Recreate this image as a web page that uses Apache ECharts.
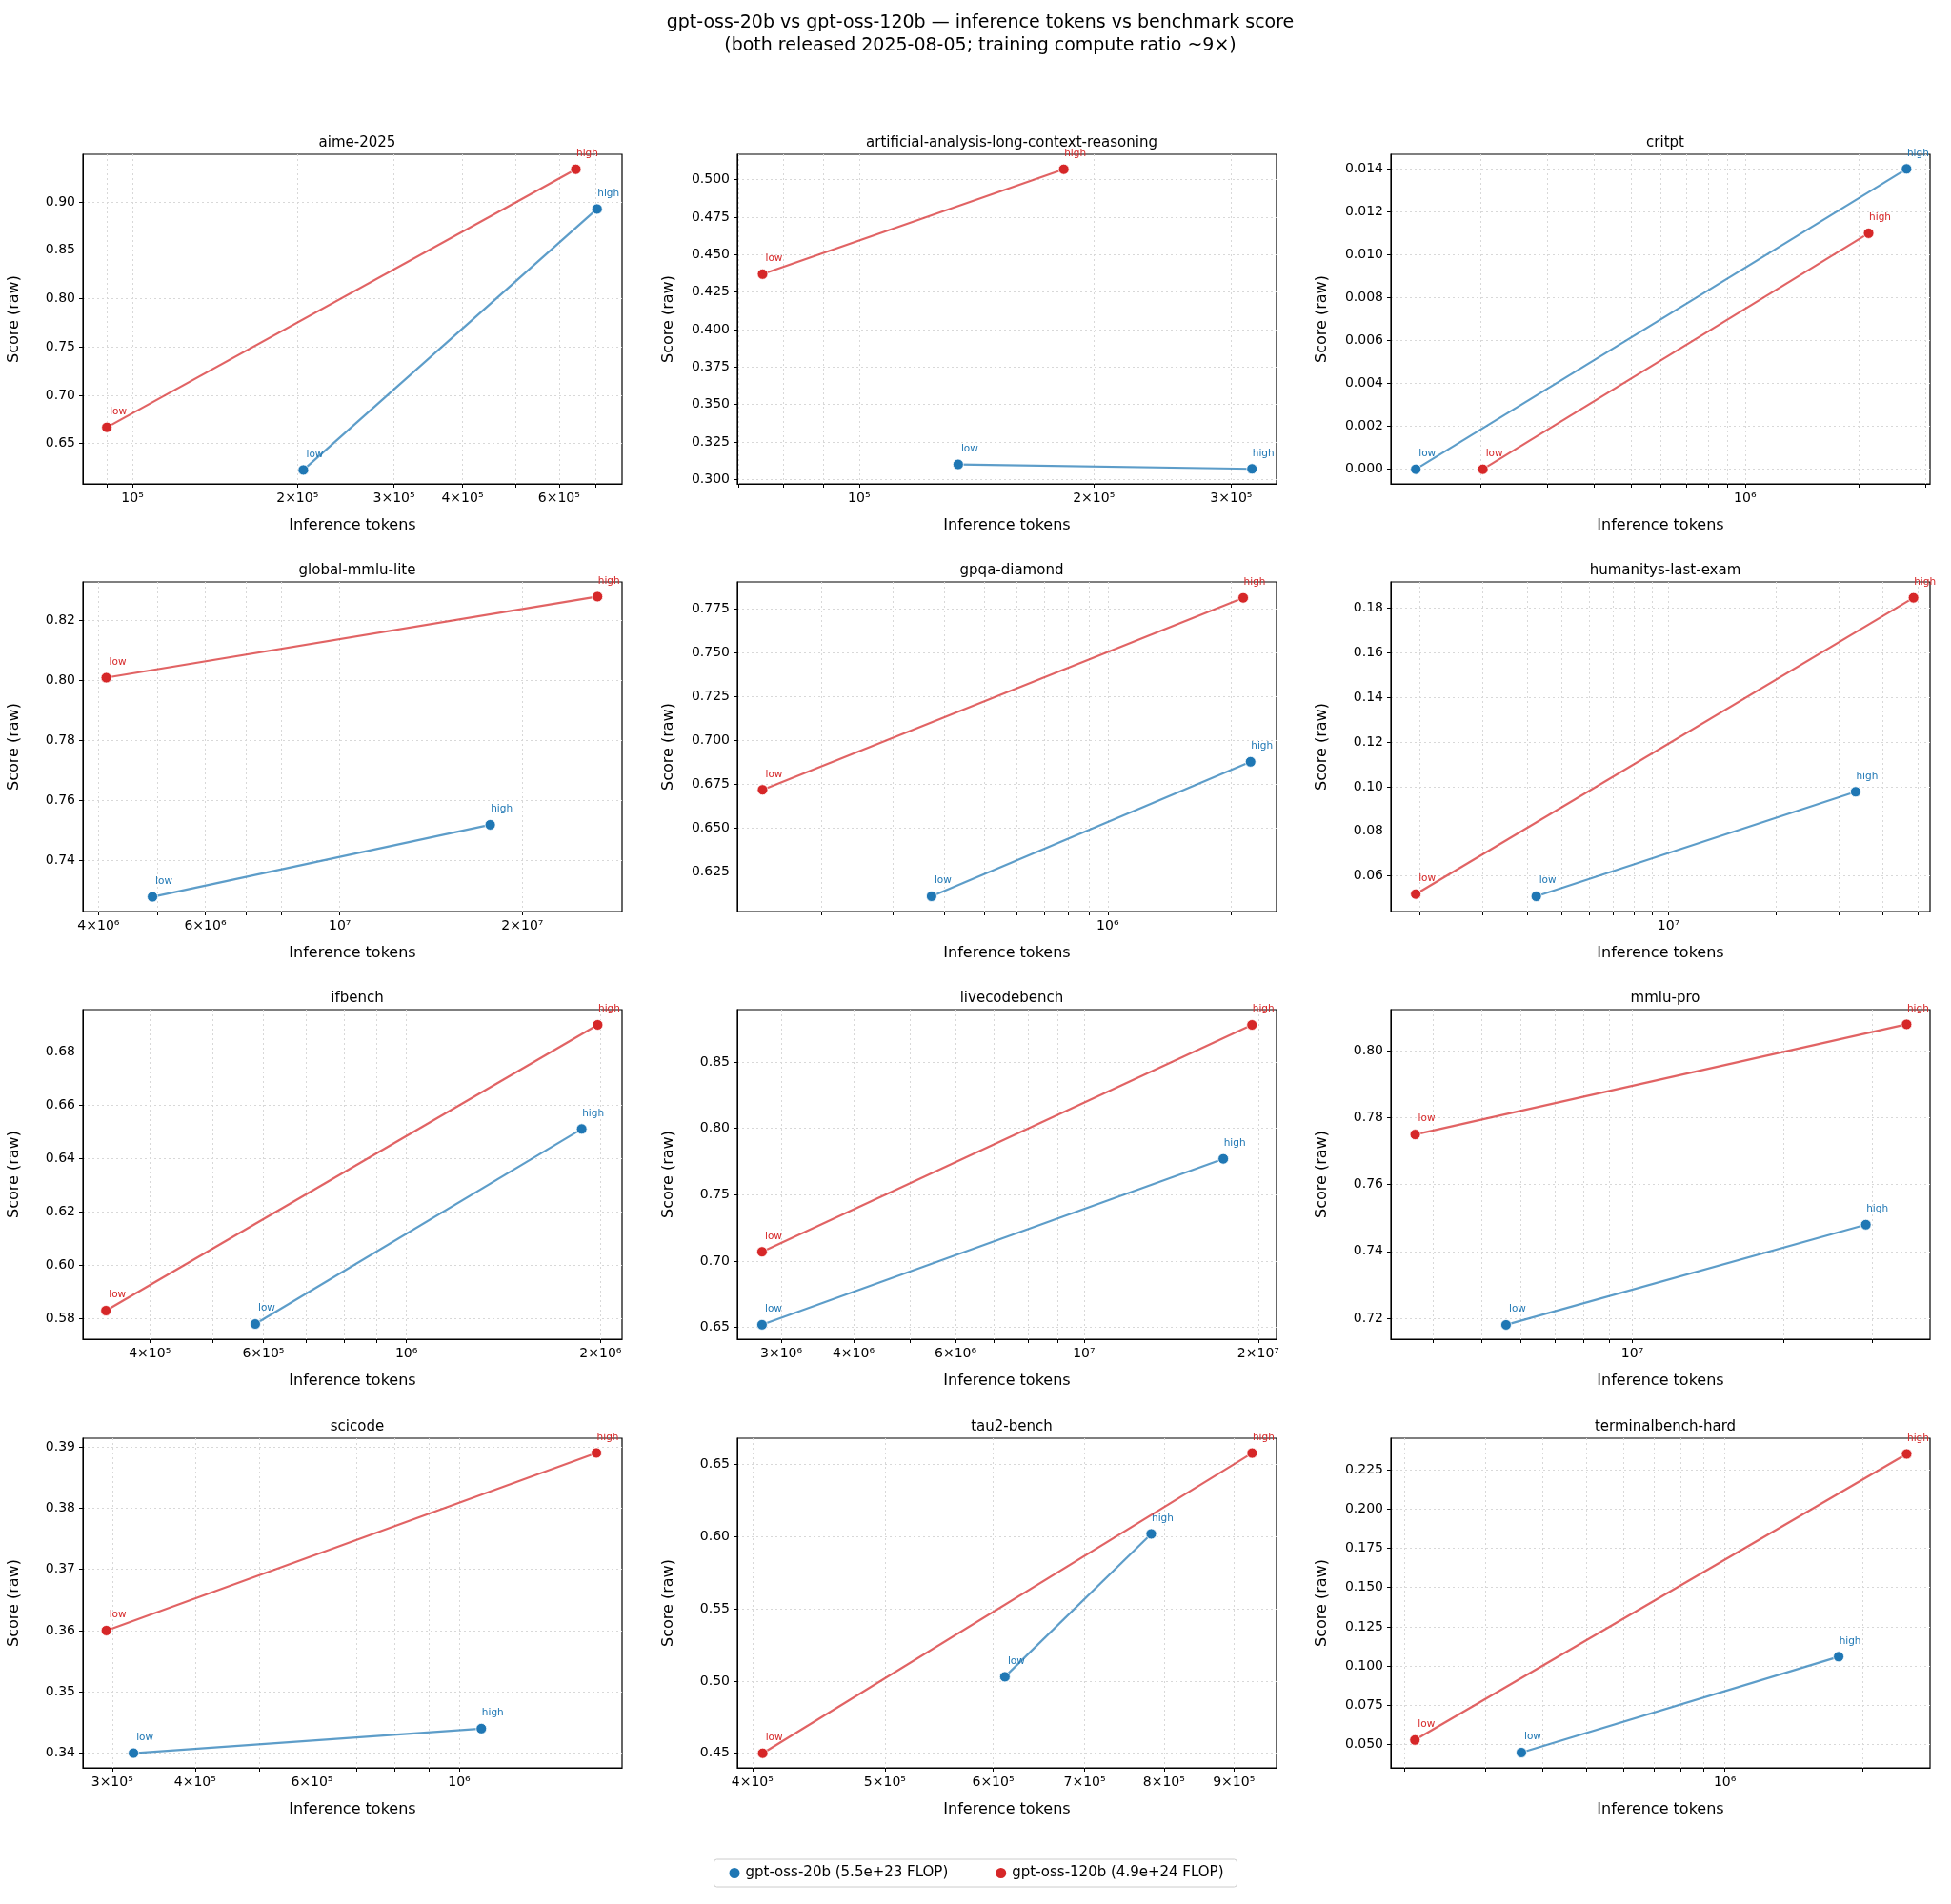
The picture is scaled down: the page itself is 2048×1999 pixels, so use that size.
<!DOCTYPE html>
<html><head><meta charset="utf-8">
<script src="https://cdn.jsdelivr.net/npm/echarts@6/dist/echarts.min.js"></script>
<style>html,body{margin:0;padding:0;background:#fff}#c{width:2048px;height:1999px}</style>
</head><body><div id="c"></div>
<script>
const panelNames = ['aime-2025','artificial-analysis-long-context-reasoning','critpt','global-mmlu-lite','gpqa-diamond','humanitys-last-exam','ifbench','livecodebench','mmlu-pro','scicode','tau2-bench','terminalbench-hard'];
const pointLabels = ['low','high'];
// gpt-oss-20b: tokens [low, high], scores [low, high]
const tokens20 = [[2.05e5,7.04e5],[1.34e5,3.19e5],[1.35e5,2.67e6],[4.91e6,1.77e7],[3.72e5,2.23e6],[4.25e6,3.35e7],[5.83e5,1.87e6],[2.78e6,1.74e7],[5.6e6,2.92e7],[3.23e5,1.08e6],[6.12e5,7.83e5],[3.6e5,1.77e6]];
const scores20 = [[0.6227,0.8928],[0.310,0.307],[0.0,0.014],[0.728,0.752],[0.6109,0.6877],[0.0509,0.0977],[0.578,0.651],[0.652,0.777],[0.718,0.748],[0.340,0.344],[0.503,0.602],[0.045,0.106]];
// gpt-oss-120b
const tokens120 = [[8.98e4,6.44e5],[7.52e4,1.83e5],[2.03e5,2.12e6],[4.12e6,2.66e7],[1.44e5,2.14e6],[1.95e6,4.87e7],[3.42e5,1.98e6],[2.78e6,1.95e7],[3.69e6,3.52e7],[2.94e5,1.61e6],[4.07e5,9.28e5],[2.11e5,2.49e6]];
const scores120 = [[0.6668,0.9339],[0.437,0.507],[0.0,0.011],[0.801,0.828],[0.6717,0.7813],[0.0519,0.1845],[0.583,0.690],[0.707,0.878],[0.775,0.808],[0.360,0.389],[0.450,0.658],[0.053,0.235]];
// axis ranges
const xMin = [8.12e4,6.98e4,1.16e5,3.77e6,1.25e5,1.66e6,3.15e5,2.52e6,3.3e6,2.71e5,3.9e5,1.87e5];
const xMax = [7.82e5,3.43e5,3.08e6,2.92e7,2.58e6,5.42e7,2.16e6,2.15e7,3.92e7,1.76e6,9.67e5,2.8e6];
const yMin = [0.6083,0.297,-0.00068,0.7231,0.6022,0.0441,0.5723,0.6411,0.7137,0.3376,0.4399,0.0353];
const yMax = [0.9494,0.517,0.01468,0.8329,0.7904,0.1916,0.6957,0.8895,0.8124,0.3914,0.6683,0.245];
const yTicks = [
 [0.65,0.70,0.75,0.80,0.85,0.90],
 [0.300,0.325,0.350,0.375,0.400,0.425,0.450,0.475,0.500],
 [0.000,0.002,0.004,0.006,0.008,0.010,0.012,0.014],
 [0.74,0.76,0.78,0.80,0.82],
 [0.625,0.650,0.675,0.700,0.725,0.750,0.775],
 [0.06,0.08,0.10,0.12,0.14,0.16,0.18],
 [0.58,0.60,0.62,0.64,0.66,0.68],
 [0.65,0.70,0.75,0.80,0.85],
 [0.72,0.74,0.76,0.78,0.80],
 [0.34,0.35,0.36,0.37,0.38,0.39],
 [0.45,0.50,0.55,0.60,0.65],
 [0.050,0.075,0.100,0.125,0.150,0.175,0.200,0.225]];
const yDecimals = [2,3,3,2,3,2,2,2,2,2,2,3];
const xLabelTicks = [
 [1e5,2e5,3e5,4e5,6e5],[1e5,2e5,3e5],[1e6],[4e6,6e6,1e7,2e7],[1e6],[1e7],
 [4e5,6e5,1e6,2e6],[3e6,4e6,6e6,1e7,2e7],[1e7],[3e5,4e5,6e5,1e6],
 [4e5,5e5,6e5,7e5,8e5,9e5],[1e6]];
const seriesNames = ['gpt-oss-20b (5.5e+23 FLOP)','gpt-oss-120b (4.9e+24 FLOP)'];
const colors = ['#1f77b4','#d62728'];

const SUP = {'0':'⁰','1':'¹','2':'²','3':'³','4':'⁴','5':'⁵','6':'⁶','7':'⁷','8':'⁸','9':'⁹'};
function fmtSci(v){
  const e = Math.floor(Math.log10(v)+1e-9);
  const m = Math.round(v/Math.pow(10,e));
  const s = '10' + String(e).split('').map(c=>SUP[c]).join('');
  return m===1 ? s : m+'×'+s;
}
function minorTicks(lo,hi){
  const out=[];
  for(let e=Math.floor(Math.log10(lo)); e<=Math.ceil(Math.log10(hi)); e++){
    for(let k=1;k<10;k++){const v=k*Math.pow(10,e); if(v>=lo&&v<=hi) out.push(v);}
  }
  return out;
}
const colLeft=[87,774,1460], colW=566, rowTop=[162,611,1060,1510], rowH=346;
const grids=[],xAxes=[],yAxes=[],series=[],titles=[];
titles.push({text:'gpt-oss-20b vs gpt-oss-120b — inference tokens vs benchmark score',left:1024,top:10,textAlign:'center',
  textStyle:{fontFamily:'DejaVu Sans',fontSize:19,fontWeight:'normal',color:'#000'}});
titles.push({text:'(both released 2025-08-05; training compute ratio ~9×)',left:1024,top:34,textAlign:'center',
  textStyle:{fontFamily:'DejaVu Sans',fontSize:19,fontWeight:'normal',color:'#000'}});
panelNames.forEach((name,i)=>{
  const r=Math.floor(i/3), c=i%3;
  grids.push({left:colLeft[c],top:rowTop[r],width:colW,height:rowH,show:true,borderColor:'#000',borderWidth:1.2,containLabel:false});
  titles.push({text:name,left:colLeft[c]+colW/2,top:rowTop[r]-24,textAlign:'center',textStyle:{fontFamily:'DejaVu Sans',fontSize:15,fontWeight:'normal',color:'#000'}});
  const ticks=minorTicks(xMin[i],xMax[i]);
  xAxes.push({gridIndex:i,type:'log',logBase:10,min:xMin[i],max:xMax[i],
    name:'Inference tokens',nameLocation:'middle',nameGap:36,nameTextStyle:{fontFamily:'DejaVu Sans',fontSize:16,color:'#000'},
    axisLine:{show:true,onZero:false,lineStyle:{color:'#000'}},
    axisTick:{show:true,customValues:ticks,length:4,lineStyle:{color:'#000'}},
    axisLabel:{customValues:xLabelTicks[i],formatter:v=>fmtSci(v),fontFamily:'DejaVu Sans',fontSize:14,color:'#000',margin:8},
    splitLine:{show:true,lineStyle:{color:'#d8d8d8',type:[2,3],width:1}},minorSplitLine:{show:false}});
  yAxes.push({gridIndex:i,type:'value',min:yMin[i],max:yMax[i],
    name:'Score (raw)',nameLocation:'middle',nameGap:64,nameTextStyle:{fontFamily:'DejaVu Sans',fontSize:16,color:'#000'},
    axisLine:{show:true,onZero:false,lineStyle:{color:'#000'}},
    axisTick:{show:true,customValues:yTicks[i],length:4,lineStyle:{color:'#000'}},
    axisLabel:{customValues:yTicks[i],formatter:v=>v.toFixed(yDecimals[i]),fontFamily:'DejaVu Sans',fontSize:14,color:'#000'},
    splitLine:{show:true,lineStyle:{color:'#d8d8d8',type:[2,3],width:1}}});
  [[tokens20,scores20],[tokens120,scores120]].forEach(([tk,sc],s)=>{
    series.push({type:'line',name:seriesNames[s],xAxisIndex:i,yAxisIndex:i,
      data:pointLabels.map((lb,j)=>[tk[i][j],sc[i][j],lb]),
      symbol:'circle',symbolSize:11,showSymbol:true,
      lineStyle:{color:colors[s],width:2.2,opacity:0.72},
      itemStyle:{color:colors[s],borderColor:'#fff',borderWidth:0.8},
      label:{show:true,position:'top',offset:[12,0],formatter:p=>p.data[2],fontFamily:'DejaVu Sans',fontSize:10.5,color:colors[s]},
      emphasis:{disabled:true},animation:false,z:s+2});
  });
});
const chart=echarts.init(document.getElementById('c'));
chart.setOption({animation:false,title:titles,grid:grids,xAxis:xAxes,yAxis:yAxes,series:series,
  legend:{data:seriesNames.map((n,s)=>({name:n,icon:'circle',itemStyle:{color:colors[s]}})),left:'center',top:1952,itemWidth:13,itemHeight:13,itemGap:48,
    borderColor:'#ccc',borderWidth:1,borderRadius:3,padding:[7,14],textStyle:{fontFamily:'DejaVu Sans',fontSize:15,color:'#000'}}});
</script></body></html>
